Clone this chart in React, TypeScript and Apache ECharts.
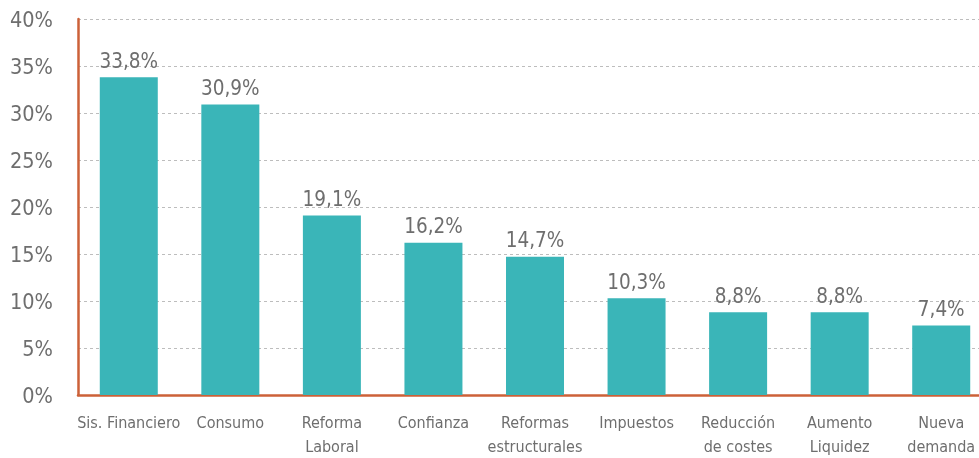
import React, { useEffect, useRef } from "react";
import * as echarts from "echarts";

const categories = [
  "Sis. Financiero",
  "Consumo",
  "Reforma\nLaboral",
  "Confianza",
  "Reformas\nestructurales",
  "Impuestos",
  "Reducción\nde costes",
  "Aumento\nLiquidez",
  "Nueva\ndemanda",
];
const values = [33.8, 30.9, 19.1, 16.2, 14.7, 10.3, 8.8, 8.8, 7.4];

const FONT = "'DejaVu Sans Condensed', 'Liberation Sans Narrow', sans-serif";
const GREY = "#6e6e6e";
const ORANGE = "#CC6138";
const TEAL = "#3AB5B8";

export default function App() {
  const ref = useRef<HTMLDivElement>(null);
  useEffect(() => {
    if (!ref.current) return;
    const chart = echarts.init(ref.current, null, { renderer: "svg" });
    chart.setOption({
      animation: false,
      grid: { left: 78, top: 19, right: 0, bottom: 62, containLabel: false },
      xAxis: {
        type: "category",
        data: categories,
        axisLine: { show: true, lineStyle: { color: ORANGE, width: 2.5 } },
        axisTick: { show: false },
        axisLabel: {
          interval: 0,
          color: GREY,
          fontFamily: FONT,
          fontSize: 16,
          lineHeight: 24,
          margin: 15,
        },
      },
      yAxis: {
        type: "value",
        min: 0,
        max: 40,
        interval: 5,
        axisLine: { show: true, lineStyle: { color: ORANGE, width: 2.5 } },
        axisTick: { show: false },
        axisLabel: {
          formatter: "{value}%",
          color: GREY,
          fontFamily: FONT,
          fontSize: 21.5,
          margin: 25,
        },
        splitLine: { show: true, lineStyle: { color: "#bdbdbd", type: [3, 3], width: 1 } },
      },
      series: [
        {
          type: "bar",
          data: values,
          barWidth: 58,
          itemStyle: { color: TEAL },
          label: {
            show: true,
            position: "top",
            distance: 6,
            color: GREY,
            fontFamily: FONT,
            fontSize: 20.5,
            formatter: (p: any) => p.value.toFixed(1).replace(".", ",") + "%",
          },
        },
      ],
    });
    return () => chart.dispose();
  }, []);
  return (
    <div style={{ position: "fixed", left: 0, top: 0, width: 979, height: 458, overflow: "hidden" }}>
      <div ref={ref} style={{ width: 992, height: 458 }} />
    </div>
  );
}
